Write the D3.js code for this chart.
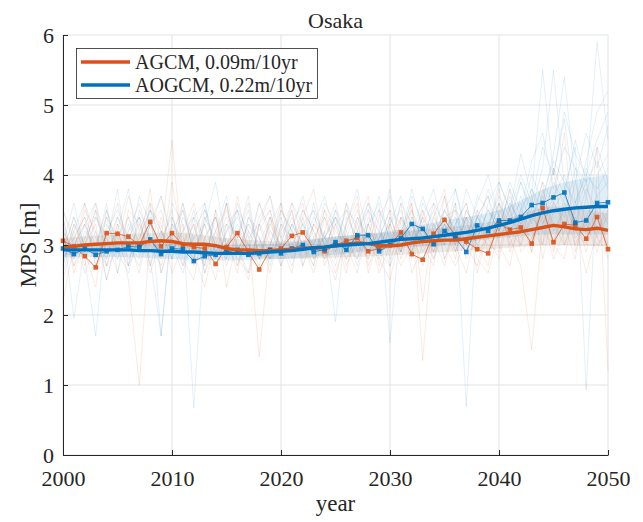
<!DOCTYPE html>
<html><head><meta charset="utf-8">
<script src="https://cdn.jsdelivr.net/npm/d3@7"></script>
<style>body{margin:0;background:#fff}svg{display:block}svg text{font-family:"Liberation Serif","Times New Roman",serif !important}</style>
</head><body>
<svg id="c" width="643" height="522"></svg>
<script>
const years = d3.range(2000, 2051);
const xTicks = [2000, 2010, 2020, 2030, 2040, 2050];
const yTicks = [0, 1, 2, 3, 4, 5, 6];
const seriesNames = ["AGCM, 0.09m/10yr", "AOGCM, 0.22m/10yr"];

const agcmSmooth = [2.97,2.98,3.0,3.01,3.02,3.03,3.03,3.03,3.05,3.06,3.05,3.02,3.01,3.01,2.99,2.95,2.93,2.93,2.92,2.92,2.93,2.94,2.95,2.96,2.97,2.99,3.01,3.03,3.02,2.99,2.99,3.0,3.03,3.05,3.06,3.07,3.07,3.09,3.11,3.13,3.15,3.17,3.19,3.22,3.25,3.28,3.26,3.23,3.22,3.24,3.21];
const aogcmSmooth = [2.93,2.93,2.93,2.93,2.93,2.93,2.93,2.92,2.92,2.91,2.91,2.9,2.9,2.89,2.88,2.88,2.88,2.88,2.89,2.9,2.91,2.92,2.94,2.96,2.97,2.99,3.0,3.01,3.02,3.04,3.06,3.08,3.09,3.1,3.12,3.14,3.16,3.18,3.21,3.24,3.28,3.32,3.37,3.42,3.46,3.49,3.51,3.53,3.54,3.55,3.55];
const agcmAnnual = [3.06,2.98,2.84,2.68,3.17,3.16,3.12,3.0,3.33,2.98,3.17,3.0,2.97,2.95,2.73,2.97,3.17,2.9,2.65,2.93,2.95,3.13,3.18,2.95,2.91,3.0,3.06,3.1,2.91,2.95,3.0,3.18,2.87,2.79,3.16,3.36,3.13,3.05,2.94,2.88,3.3,3.22,3.25,3.02,3.53,3.04,3.3,3.28,3.09,3.4,2.94];
const aogcmAnnual = [2.95,2.87,2.95,2.86,2.91,2.93,2.98,2.97,3.08,2.87,2.95,2.94,2.77,2.84,2.86,2.9,2.93,2.86,2.88,2.93,2.88,2.95,3.0,2.9,2.94,3.04,2.93,3.14,3.14,2.91,3.0,3.1,3.3,3.23,3.01,3.2,3.1,2.9,3.28,3.2,3.35,3.35,3.4,3.57,3.6,3.68,3.75,3.32,3.35,3.6,3.61];

const bandYears = [2000,2005,2010,2015,2020,2025,2030,2035,2040,2045,2050];
const agcmBandLow  = [2.85,2.9,2.9,2.88,2.8,2.82,2.85,2.9,2.95,3.0,2.98];
const agcmBandHigh = [3.1,3.15,3.18,3.1,3.05,3.12,3.18,3.25,3.35,3.55,3.45];
const aogcmBandLow  = [2.82,2.83,2.8,2.78,2.8,2.86,2.95,3.0,3.1,3.15,3.15];
const aogcmBandHigh = [3.02,3.03,3.02,3.0,3.02,3.12,3.2,3.35,3.5,3.85,4.0];

const agcmMembers = [
[3.4,2.6,3.1,3.6,2.8,3.3,2.5,1.0,3.2,3.7,3.1,2.9,3.3,2.7,3.5,2.4,3.1,3.6,2.8,3.3,3.0,2.6,3.4,3.8,2.9,2.5,3.2,3.6,2.7,3.1,3.5,2.8,3.3,3.0,2.7,3.7,2.9,3.4,2.6,3.2,3.8,2.9,3.3,3.5,3.0,4.1,3.0,3.5,3.9,3.2,3.4],
[2.7,3.3,2.9,2.4,3.5,3.0,3.7,3.2,2.6,3.1,4.5,2.8,2.5,3.4,3.0,3.6,2.7,3.2,1.4,3.0,3.5,3.2,2.7,3.1,3.4,2.8,3.6,2.9,3.2,2.6,3.0,3.4,2.8,3.5,3.1,2.7,3.3,3.6,2.9,3.1,2.8,3.5,3.0,3.4,3.9,2.9,3.6,3.2,3.0,4.4,1.2],
[3.1,2.8,3.5,3.2,2.7,2.9,3.4,3.0,3.8,2.6,3.2,3.5,2.9,2.4,3.1,3.3,2.8,2.6,3.3,3.7,2.9,3.4,3.0,2.6,3.2,3.6,2.9,3.3,3.7,2.8,2.5,3.2,3.6,1.35,3.3,3.0,2.7,3.1,3.5,2.9,3.4,3.1,2.7,1.5,3.3,3.6,4.6,2.9,3.4,3.1,3.7],
[2.2,3.0,3.3,2.8,3.1,3.6,2.9,3.3,2.7,3.4,2.9,3.2,3.6,3.0,2.5,3.3,3.5,2.9,3.1,2.6,3.3,2.9,3.5,3.2,2.8,3.1,2.6,3.4,3.0,3.5,3.2,2.7,3.0,3.3,3.6,2.8,3.2,2.9,3.4,3.7,3.0,2.7,3.5,3.2,3.0,3.6,3.3,2.8,3.7,3.1,2.9],
[3.5,3.1,2.6,3.0,3.4,2.8,3.2,3.6,3.0,2.7,3.3,3.1,2.8,3.5,3.2,2.9,3.7,3.0,2.7,3.4,3.1,3.5,2.8,3.3,3.0,2.6,3.1,2.8,3.4,3.2,2.9,3.6,2.6,3.0,3.4,3.1,3.6,2.8,3.1,3.5,3.2,3.8,2.9,3.1,3.4,2.8,3.2,3.9,3.3,2.9,3.5],
[2.9,3.4,3.0,3.3,2.5,3.2,2.8,3.1,3.5,3.3,2.6,3.0,3.4,3.1,2.8,3.6,2.9,3.3,3.0,2.8,3.2,3.6,3.1,2.7,3.5,3.2,3.0,2.6,3.3,2.9,3.4,3.0,3.2,2.7,3.1,3.5,3.2,3.0,2.7,3.3,3.1,3.4,3.6,2.9,3.7,3.3,3.0,3.4,2.9,3.6,3.3],
[3.2,2.9,3.6,2.7,3.0,3.4,3.1,2.6,3.3,3.0,3.5,2.7,3.1,3.3,2.9,3.1,2.6,3.4,3.2,3.5,2.8,3.0,3.3,3.5,2.7,3.3,3.5,3.0,2.8,3.4,3.7,3.1,2.9,3.4,2.8,3.2,3.5,3.3,3.0,2.7,3.5,3.2,3.0,3.7,2.8,3.5,3.8,3.1,3.3,3.0,3.2],
[2.8,3.2,2.7,3.4,3.1,2.6,3.5,3.3,2.9,3.2,2.8,3.6,3.0,2.8,3.4,3.0,3.2,2.9,3.6,3.1,2.7,3.1,2.9,3.3,3.1,3.4,2.8,3.2,3.5,2.7,3.3,2.9,3.5,3.1,2.9,3.3,2.8,3.5,3.2,3.0,2.9,3.6,3.3,3.1,3.5,3.0,2.8,3.6,3.2,3.5,3.0],
[3.3,2.7,3.0,3.5,2.9,3.2,2.7,3.4,3.1,2.8,3.9,3.0,3.3,2.6,3.2,3.5,3.0,2.5,3.3,3.0,3.6,2.8,3.2,3.0,3.5,2.9,3.3,3.7,2.6,3.1,3.3,2.9,3.6,2.2,3.4,3.8,3.0,2.6,3.3,3.1,3.6,3.0,3.4,2.9,3.8,3.2,3.5,3.0,3.4,3.7,2.8],
[2.5,3.1,3.4,3.0,2.7,3.3,3.0,2.8,3.6,3.2,2.9,3.3,2.7,3.1,3.4,2.7,3.2,3.0,2.8,3.4,2.9,3.3,3.6,2.8,3.0,3.3,2.7,3.1,3.3,2.9,2.7,3.4,3.1,3.5,2.9,3.3,3.0,3.4,2.8,2.6,3.2,3.5,3.1,3.4,3.2,3.0,3.7,3.3,2.6,3.2,3.5]
];
const aogcmMembers = [
[3.3,1.95,3.0,3.5,2.7,3.2,3.8,2.9,3.4,2.6,3.1,3.6,2.8,3.3,3.9,3.0,2.7,3.4,3.1,2.8,3.5,3.2,2.9,3.6,3.0,2.7,3.3,3.8,3.1,2.9,3.4,3.0,3.7,3.3,2.9,3.5,3.8,3.1,3.6,4.0,3.4,3.9,3.5,4.2,4.6,3.8,4.4,4.1,3.9,5.9,4.5],
[2.9,3.4,2.8,1.7,3.3,3.0,2.7,3.5,3.1,2.9,3.6,3.3,0.67,3.1,3.4,2.8,3.5,3.2,2.9,3.3,3.6,3.0,3.4,2.8,3.2,1.9,3.4,3.1,3.6,3.3,2.8,3.2,3.5,3.0,3.6,3.3,3.1,3.8,3.4,3.2,3.9,3.5,4.3,3.7,5.5,4.0,4.8,3.6,4.2,4.9,5.2],
[3.5,3.0,3.3,2.9,3.6,2.6,3.2,3.4,2.8,1.7,3.3,3.0,3.5,2.9,3.2,3.7,3.0,2.6,3.3,3.5,2.9,3.2,3.7,3.1,2.8,3.5,3.2,2.7,3.3,3.6,1.6,3.4,3.1,3.7,3.2,3.0,3.6,0.69,3.5,3.3,3.7,3.4,3.9,3.5,4.1,5.5,3.8,4.4,0.93,4.0,4.3],
[2.6,3.2,3.6,3.1,2.8,3.4,3.0,3.7,3.3,2.9,3.1,2.7,3.4,3.6,2.9,3.3,3.1,3.7,2.8,3.0,3.4,2.9,3.2,3.5,3.1,2.9,3.6,3.2,2.8,3.1,3.5,3.3,2.9,3.4,3.8,3.1,3.4,3.0,3.7,3.5,3.2,3.8,3.4,4.0,3.6,4.3,5.4,3.9,4.6,4.1,4.7],
[3.1,2.8,3.3,3.6,3.0,3.8,2.7,3.1,3.5,3.2,2.8,3.4,3.1,2.7,3.5,3.0,3.3,2.9,3.4,3.7,3.1,2.7,3.3,3.0,3.6,3.3,2.9,3.4,3.1,3.7,3.0,3.6,3.3,2.9,3.2,3.7,3.0,3.5,3.2,3.8,3.4,3.1,3.7,3.3,3.9,3.6,3.4,4.1,3.7,4.4,3.9],
[3.0,3.6,2.9,3.2,2.5,3.1,3.4,2.9,3.3,3.7,3.0,2.6,3.2,3.5,3.0,2.8,3.6,3.1,3.3,2.8,3.0,3.5,2.7,3.3,3.7,3.1,2.8,3.0,3.5,3.2,3.8,2.9,3.4,3.1,3.5,2.8,3.3,3.6,3.0,3.3,3.6,3.2,3.5,3.8,3.3,3.7,4.0,3.5,4.1,3.7,3.9],
[2.8,3.1,3.4,2.7,3.2,3.5,3.1,3.4,2.7,3.2,3.0,3.5,2.9,3.3,2.7,3.2,3.4,3.0,3.6,3.2,2.9,3.3,3.0,2.7,3.4,3.0,3.5,3.3,2.9,3.2,2.7,3.1,3.8,3.2,3.0,3.3,2.9,3.4,3.1,3.5,3.3,3.7,3.2,3.6,3.4,3.9,3.6,3.3,3.8,3.5,3.6],
[3.2,2.9,3.1,3.4,3.0,2.8,3.3,2.9,3.5,3.1,3.4,3.0,2.8,3.4,3.1,3.6,2.9,3.3,3.1,2.7,3.3,3.1,3.5,3.2,2.9,3.4,3.1,3.5,3.0,2.8,3.3,3.7,3.0,3.4,3.1,3.5,3.2,3.0,3.4,3.1,3.6,3.3,3.9,3.4,3.7,4.2,3.9,3.6,4.0,3.8,4.1],
[3.4,2.7,3.2,3.0,3.5,2.9,2.6,3.2,3.6,1.7,3.4,2.9,3.1,3.6,2.8,3.2,3.5,2.9,3.0,3.4,2.7,3.3,3.0,3.4,3.1,3.5,2.9,3.2,3.6,3.0,3.3,3.5,2.9,3.6,3.3,3.0,3.8,3.2,2.9,3.6,3.9,3.5,4.0,3.6,4.4,4.0,4.9,4.3,4.0,4.5,4.9],
[2.7,3.3,3.0,2.8,3.4,3.1,3.0,2.7,3.3,3.5,2.9,3.2,3.4,2.6,3.0,3.4,3.1,3.5,2.8,3.2,3.0,3.6,3.3,2.9,3.1,3.4,3.0,2.8,3.3,3.5,3.1,2.9,3.4,3.1,2.8,3.4,3.5,3.0,3.4,3.7,3.2,3.6,3.3,3.8,3.5,4.1,3.7,4.5,3.9,4.2,3.8]
];

const FONT = "Liberation Serif, Times New Roman, serif";
const INK = "#262626";
const ORANGE = "#D95319", BLUE = "#0072BD";
const svg = d3.select("#c");
const m = {l: 63, r: 608, t: 35, b: 455};
const x = d3.scaleLinear().domain([2000, 2050]).range([m.l, m.r]);
const y = d3.scaleLinear().domain([0, 6]).range([m.b, m.t]);

// grid
const g = svg.append("g");
g.selectAll(".gx").data(xTicks).join("line")
  .attr("x1", d => x(d)).attr("x2", d => x(d)).attr("y1", m.t).attr("y2", m.b)
  .attr("stroke", "#e3e3e3").attr("stroke-width", 1);
g.selectAll(".gy").data(yTicks).join("line")
  .attr("y1", d => y(d)).attr("y2", d => y(d)).attr("x1", m.l).attr("x2", m.r)
  .attr("stroke", "#e3e3e3").attr("stroke-width", 1);

const line = d3.line().x((d, i) => x(years[i])).y(d => y(d));
const plot = svg.append("g");

// ensemble members
plot.selectAll(".om").data(agcmMembers).join("path")
  .attr("d", line).attr("fill", "none").attr("stroke", ORANGE)
  .attr("stroke-opacity", 0.12).attr("stroke-width", 1);
plot.selectAll(".bm").data(aogcmMembers).join("path")
  .attr("d", line).attr("fill", "none").attr("stroke", BLUE)
  .attr("stroke-opacity", 0.11).attr("stroke-width", 1);

// bands
const area = (lo, hi) => d3.area().curve(d3.curveMonotoneX)
  .x((d, i) => x(bandYears[i])).y0((d, i) => y(lo[i])).y1((d, i) => y(hi[i]))(bandYears);
plot.append("path").attr("d", area(agcmBandLow, agcmBandHigh))
  .attr("fill", "#8a7a72").attr("fill-opacity", 0.15);
plot.append("path").attr("d", area(aogcmBandLow, aogcmBandHigh))
  .attr("fill", BLUE).attr("fill-opacity", 0.12);

// annual series with markers
[[agcmAnnual, ORANGE], [aogcmAnnual, BLUE]].forEach(([data, col]) => {
  plot.append("path").attr("d", line(data)).attr("fill", "none")
    .attr("stroke", col).attr("stroke-opacity", 0.75).attr("stroke-width", 1);
  plot.selectAll(null).data(data).join("rect")
    .attr("x", (d, i) => x(years[i]) - 2.3).attr("y", d => y(d) - 2.3)
    .attr("width", 4.6).attr("height", 4.6).attr("fill", col).attr("fill-opacity", 0.9);
});

// smooth lines
plot.append("path").attr("d", line(agcmSmooth)).attr("fill", "none")
  .attr("stroke", ORANGE).attr("stroke-width", 3.4).attr("stroke-linejoin", "round");
plot.append("path").attr("d", line(aogcmSmooth)).attr("fill", "none")
  .attr("stroke", BLUE).attr("stroke-width", 3.4).attr("stroke-linejoin", "round");

// axes
const ax = svg.append("g").attr("transform", `translate(0,${m.b})`)
  .call(d3.axisBottom(x).tickValues(xTicks).tickFormat(d3.format("d")).tickSizeInner(-5).tickSizeOuter(0).tickPadding(15));
const ay = svg.append("g").attr("transform", `translate(${m.l},0)`)
  .call(d3.axisLeft(y).tickValues(yTicks).tickFormat(d3.format("d")).tickSizeInner(-5).tickSizeOuter(0).tickPadding(9));
[ax, ay].forEach(a => {
  a.attr("font-family", FONT).attr("font-size", 22);
  a.select(".domain").attr("stroke", INK).attr("stroke-width", 1);
  a.selectAll(".tick line").attr("stroke", INK);
  a.selectAll(".tick text").attr("fill", INK);
});
ay.selectAll(".tick text").attr("dy", "0.32em");

// title & labels
const lbl = (xx, yy, t, size) => svg.append("text").attr("x", xx).attr("y", yy)
  .attr("text-anchor", "middle").attr("font-family", FONT).attr("font-size", size)
  .attr("fill", INK).text(t);
lbl((m.l + m.r) / 2, 28, "Osaka", 22);
lbl((m.l + m.r) / 2, 511, "year", 23);
lbl(0, 0, "MPS [m]", 23).attr("transform", `translate(36,${(m.t + m.b) / 2}) rotate(-90)`);

// legend
const lg = svg.append("g");
lg.append("rect").attr("x", 76.5).attr("y", 48.5).attr("width", 241).attr("height", 50)
  .attr("fill", "#fff").attr("stroke", INK).attr("stroke-width", 0.8);
[[seriesNames[0], ORANGE, 62], [seriesNames[1], BLUE, 85]].forEach(([t, c, yy]) => {
  lg.append("line").attr("x1", 81).attr("x2", 130).attr("y1", yy).attr("y2", yy)
    .attr("stroke", c).attr("stroke-width", 3.4);
  lg.append("text").attr("x", 135).attr("y", yy + 7).attr("font-family", FONT)
    .attr("font-size", 20).attr("fill", INK).text(t);
});
</script>
</body></html>
